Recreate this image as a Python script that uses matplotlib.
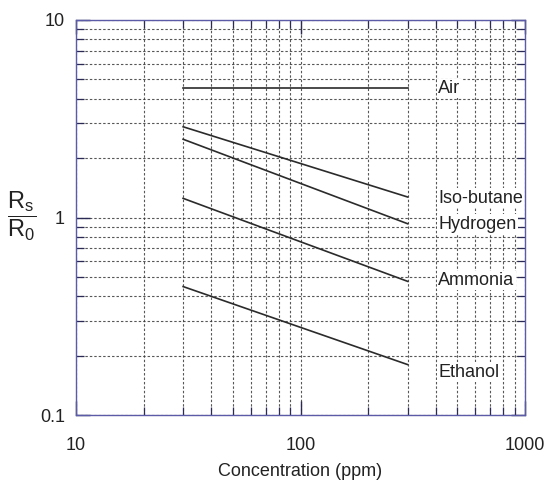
import numpy as np
import matplotlib
matplotlib.use("Agg")
import matplotlib.pyplot as plt
from matplotlib.ticker import LogLocator, NullFormatter, FixedLocator, FixedFormatter

# ---- data ----
conc = [30, 300]                      # ppm, end points of each curve
air       = [4.5, 4.5]
isobutane = [2.88, 1.27]
hydrogen  = [2.49, 0.93]
ammonia   = [1.25, 0.475]
ethanol   = [0.447, 0.18]
gases  = ["Air", "Iso-butane", "Hydrogen", "Ammonia", "Ethanol"]
series = [air, isobutane, hydrogen, ammonia, ethanol]
label_y = [4.5, 1.25, 0.925, 0.48, 0.165]   # where the gas names sit
label_x = 410

xticks = [10, 100, 1000]
xticklabels = ["10", "100", "1000"]
yticks = [0.1, 1, 10]
yticklabels = ["0.1", "1", "10"]

plt.rcParams.update({
    "font.family": ["Liberation Sans", "DejaVu Sans"],
    "mathtext.fontset": "custom", "mathtext.rm": "Liberation Sans",
    "mathtext.it": "Liberation Sans",
})

SPINE = "#5b5ba8"
GRID = "#3a3a3a"

fig = plt.figure(figsize=(5.5, 4.84), dpi=100)
ax = fig.add_axes([76/550, 1-415/484, 449/550, 395/484])
ax.set_xscale("log"); ax.set_yscale("log")
ax.set_xlim(10, 1000); ax.set_ylim(0.1, 10)

ax.xaxis.set_major_locator(FixedLocator(xticks))
ax.xaxis.set_major_formatter(FixedFormatter(xticklabels))
ax.yaxis.set_major_locator(FixedLocator(yticks))
ax.yaxis.set_major_formatter(FixedFormatter(yticklabels))
ax.xaxis.set_minor_locator(LogLocator(base=10, subs=np.arange(2, 10)))
ax.yaxis.set_minor_locator(LogLocator(base=10, subs=np.arange(2, 10)))
ax.xaxis.set_minor_formatter(NullFormatter()); ax.yaxis.set_minor_formatter(NullFormatter())

ax.grid(True, which="both", color=GRID, ls=(0, (2.2, 1.8)), lw=0.8, alpha=0.85)
ax.tick_params(which="both", direction="in", top=True, right=True, color="#2a2a55")
ax.tick_params(which="major", length=10, width=1.0, labelsize=13, labelcolor="#222222")
ax.tick_params(which="minor", length=6, width=0.9)
ax.tick_params(axis="x", which="major", pad=16)
ax.tick_params(axis="y", which="major", pad=8)
for s in ax.spines.values():
    s.set_color(SPINE); s.set_linewidth(1.0)

for name, vals, ly in zip(gases, series, label_y):
    ax.plot(conc, vals, color="#2b2b2b", lw=1.2, zorder=3)
    ax.text(label_x, ly, name, fontsize=13, va="center", ha="left", color="#222222",
            bbox=dict(facecolor="white", edgecolor="none", pad=1.0), zorder=4)

ax.set_xlabel("Concentration (ppm)", fontsize=13, labelpad=6, color="#222222")
fig.text(22/550, 1-216/484, r"$\dfrac{\mathrm{R_s}}{\mathrm{R_0}}$", fontsize=17,
         ha="center", va="center", color="#222222")

fig.savefig("out.png", dpi=100)
